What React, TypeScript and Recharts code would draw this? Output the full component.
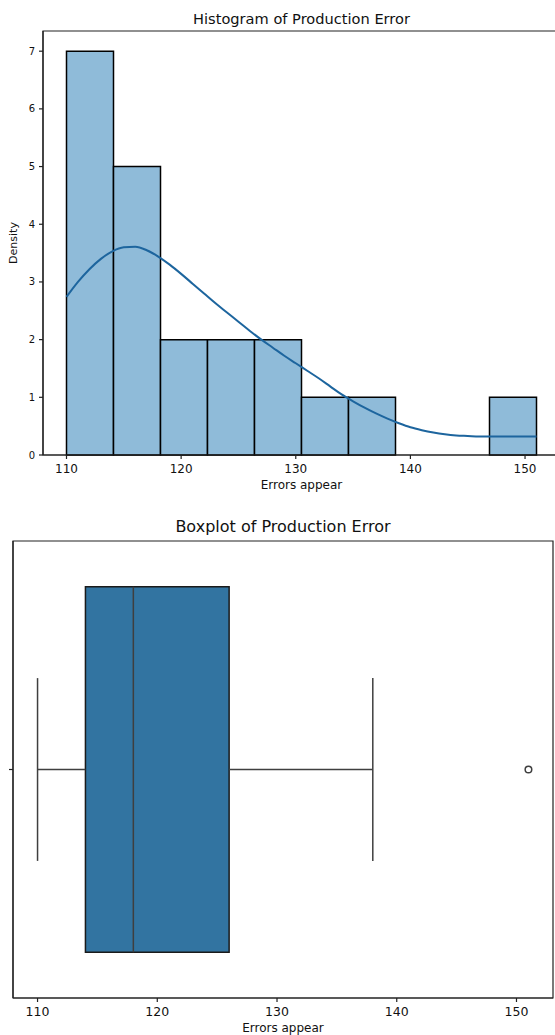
import React from 'react';
import {
  ComposedChart,
  Line,
  Scatter,
  XAxis,
  YAxis,
  ReferenceArea,
  ReferenceLine,
} from 'recharts';

// histogram bins (10 bins over 110..151) and their counts
const BIN_EDGES = [110, 114.1, 118.2, 122.3, 126.4, 130.5, 134.6, 138.7, 142.8, 146.9, 151];
const BIN_COUNTS = [7, 5, 2, 2, 2, 1, 1, 0, 0, 1];

// kde curve
const KDE_X = [
  110, 111, 112, 113, 114, 115, 116, 117, 118, 119, 120, 121, 122, 123, 124, 125,
  126, 127, 128, 129, 130, 131, 132, 133, 134, 135, 136, 137, 138, 139, 140, 141,
  142, 143, 144, 145, 146, 147, 148, 149, 150, 151,
];
const KDE_Y = [
  2.74, 3.0, 3.22, 3.4, 3.53, 3.6, 3.61, 3.55, 3.44, 3.3, 3.14, 2.97, 2.8, 2.63, 2.47, 2.31,
  2.15, 2.0, 1.86, 1.72, 1.59, 1.46, 1.33, 1.19, 1.05, 0.93, 0.82, 0.72, 0.63, 0.55, 0.48, 0.43,
  0.39, 0.36, 0.34, 0.33, 0.32, 0.32, 0.32, 0.32, 0.32, 0.32,
];

// boxplot summary
const WHISKER_LOW = 110;
const Q1 = 114;
const MEDIAN = 118;
const Q3 = 126;
const WHISKER_HIGH = 138;
const OUTLIERS = [151];

const X_TICKS = [110, 120, 130, 140, 150];
const Y_TICKS = [0, 1, 2, 3, 4, 5, 6, 7];
const X_DOMAIN: [number, number] = [107.95, 153.05];
const HIST_Y_DOMAIN: [number, number] = [0, 7.35];
const BOX_Y_DOMAIN: [number, number] = [-0.5, 0.5];

const FONT = '"DejaVu Sans", sans-serif';
const AXIS = '#222';
const BAR_FILL = '#8fbbd9';
const KDE_COLOR = '#1d659e';
const BOX_FILL = '#3274a1';
const LINE_GRAY = '#3f3f3f';

const kdeData = KDE_X.map((x, i) => ({ x, kde: KDE_Y[i] }));
const outlierData = OUTLIERS.map((x) => ({ x, y: 0 }));

function OpenCircle(props: { cx?: number; cy?: number }) {
  const { cx = 0, cy = 0 } = props;
  return <circle cx={cx} cy={cy} r={3.3} fill="none" stroke={LINE_GRAY} strokeWidth={1.5} />;
}

function Histogram() {
  return (
    <div style={{ position: 'absolute', left: 0, top: 0, width: 555, height: 500, overflow: 'hidden' }}>
      <div style={{
        position: 'absolute', top: 12, left: 0, width: 603, textAlign: 'center',
        fontFamily: FONT, fontSize: '14.6px', lineHeight: '14.6px', color: '#111', whiteSpace: 'nowrap',
      }}>
        Histogram of Production Error
      </div>
      <ComposedChart width={562} height={500} data={kdeData} margin={{ top: 31, right: 2, bottom: 0, left: 0 }}>
        <XAxis
          dataKey="x"
          type="number"
          domain={X_DOMAIN}
          ticks={X_TICKS}
          allowDataOverflow
          height={45}
          tickSize={4}
          tickMargin={5}
          stroke={AXIS}
          strokeWidth={1.2}
          tick={{ fontSize: 12, fill: '#111', fontFamily: FONT }}
          label={{ value: 'Errors appear', position: 'insideBottom', offset: 10.6, style: { fontSize: 12, fill: '#111', fontFamily: FONT } }}
        />
        <YAxis
          type="number"
          domain={HIST_Y_DOMAIN}
          ticks={Y_TICKS}
          allowDataOverflow
          width={43}
          tickSize={4}
          tickMargin={4}
          stroke={AXIS}
          strokeWidth={1.2}
          tick={{ fontSize: 10, fill: '#111', fontFamily: FONT }}
          label={{ value: 'Density', angle: -90, position: 'insideLeft', offset: 13, style: { textAnchor: 'middle', fontSize: 11, fill: '#111', fontFamily: FONT } }}
        />
        {/* axes frame */}
        <ReferenceArea
          x1={X_DOMAIN[0]}
          x2={X_DOMAIN[1]}
          y1={HIST_Y_DOMAIN[0]}
          y2={HIST_Y_DOMAIN[1]}
          fill="none"
          stroke={AXIS}
          strokeWidth={1.2}
          ifOverflow="visible"
        />
        {BIN_COUNTS.map((c, i) =>
          c > 0 ? (
            <ReferenceArea
              key={i}
              x1={BIN_EDGES[i]}
              x2={BIN_EDGES[i + 1]}
              y1={0}
              y2={c}
              fill={BAR_FILL}
              fillOpacity={1}
              stroke="#000"
              strokeWidth={1.5}
            />
          ) : null
        )}
        <Line
          dataKey="kde"
          type="monotone"
          stroke={KDE_COLOR}
          strokeWidth={2}
          dot={false}
          isAnimationActive={false}
        />
      </ComposedChart>
    </div>
  );
}

function Boxplot() {
  return (
    <div style={{ position: 'absolute', left: 0, top: 500, width: 555, height: 535, overflow: 'hidden' }}>
      <div style={{
        position: 'absolute', top: 19.3, left: 0, width: 566, textAlign: 'center',
        fontFamily: FONT, fontSize: '16px', lineHeight: '16px', color: '#111', whiteSpace: 'nowrap',
      }}>
        Boxplot of Production Error
      </div>
      <ComposedChart width={555} height={535} margin={{ top: 41, right: 2, bottom: 0, left: 0 }}>
        <XAxis
          dataKey="x"
          type="number"
          domain={X_DOMAIN}
          ticks={X_TICKS}
          allowDataOverflow
          height={37}
          tickSize={4}
          tickMargin={5}
          stroke={AXIS}
          strokeWidth={1.2}
          tick={{ fontSize: 12.5, fill: '#111', fontFamily: FONT }}
          label={{ value: 'Errors appear', position: 'insideBottom', offset: 2.6, style: { fontSize: 12, fill: '#111', fontFamily: FONT } }}
        />
        <YAxis
          dataKey="y"
          type="number"
          domain={BOX_Y_DOMAIN}
          ticks={[0]}
          allowDataOverflow
          width={13}
          tickSize={4}
          tickFormatter={() => ''}
          stroke={AXIS}
          strokeWidth={1.2}
        />
        {/* axes frame */}
        <ReferenceArea
          x1={X_DOMAIN[0]}
          x2={X_DOMAIN[1]}
          y1={BOX_Y_DOMAIN[0]}
          y2={BOX_Y_DOMAIN[1]}
          fill="none"
          stroke={AXIS}
          strokeWidth={1.2}
          ifOverflow="visible"
        />
        <ReferenceLine segment={[{ x: WHISKER_LOW, y: 0 }, { x: Q1, y: 0 }]} stroke={LINE_GRAY} strokeWidth={1.5} />
        <ReferenceLine segment={[{ x: Q3, y: 0 }, { x: WHISKER_HIGH, y: 0 }]} stroke={LINE_GRAY} strokeWidth={1.5} />
        <ReferenceLine segment={[{ x: WHISKER_LOW, y: -0.2 }, { x: WHISKER_LOW, y: 0.2 }]} stroke={LINE_GRAY} strokeWidth={1.5} />
        <ReferenceLine segment={[{ x: WHISKER_HIGH, y: -0.2 }, { x: WHISKER_HIGH, y: 0.2 }]} stroke={LINE_GRAY} strokeWidth={1.5} />
        <ReferenceArea
          x1={Q1}
          x2={Q3}
          y1={-0.4}
          y2={0.4}
          fill={BOX_FILL}
          fillOpacity={1}
          stroke="#1a1a1a"
          strokeWidth={1.5}
        />
        <ReferenceLine segment={[{ x: MEDIAN, y: -0.4 }, { x: MEDIAN, y: 0.4 }]} stroke={LINE_GRAY} strokeWidth={1.5} />
        <Scatter data={outlierData} dataKey="y" shape={<OpenCircle />} isAnimationActive={false} />
      </ComposedChart>
    </div>
  );
}

export default function App() {
  return (
    <div style={{ position: 'absolute', left: 0, top: 0, width: 555, height: 1035, background: '#fff' }}>
      <Histogram />
      <Boxplot />
    </div>
  );
}
